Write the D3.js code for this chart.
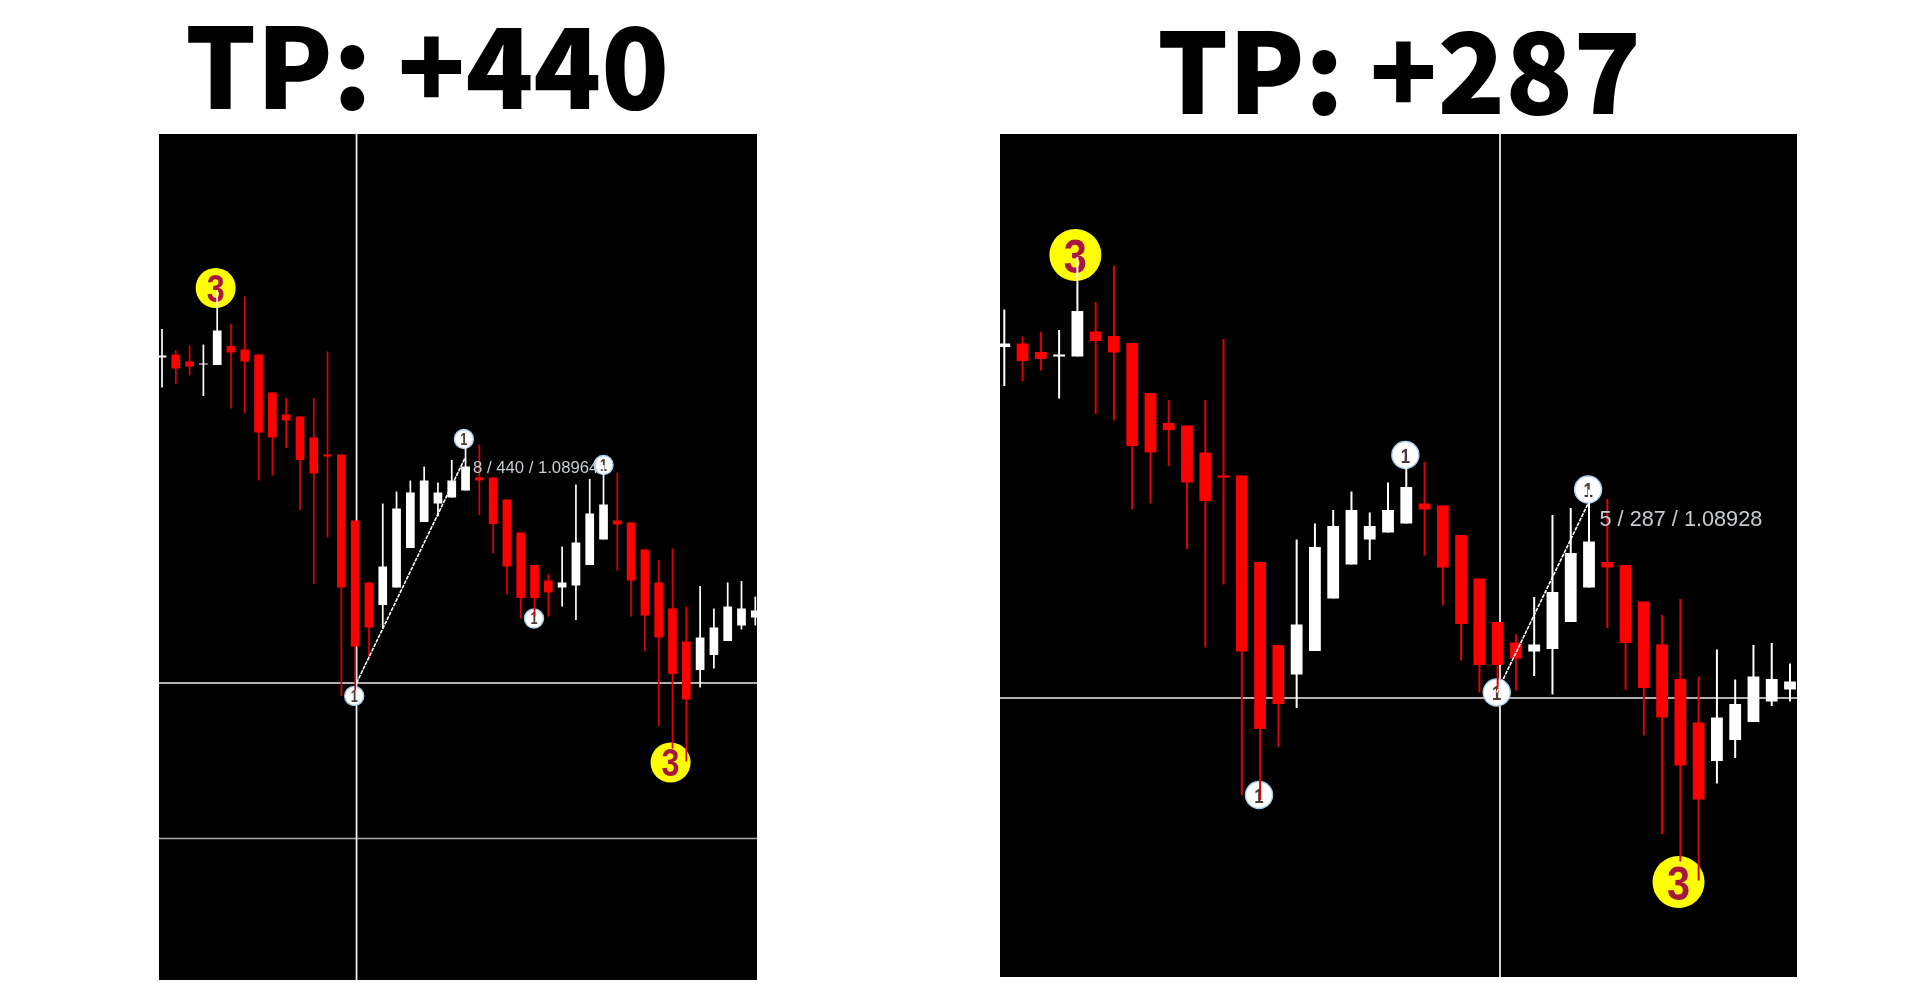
<!DOCTYPE html>
<html><head><meta charset="utf-8">
<script src="https://cdnjs.cloudflare.com/ajax/libs/d3/7.8.5/d3.min.js"></script>
<style>html,body{margin:0;padding:0;background:#fff;overflow:hidden}svg{display:block}</style>
</head><body>
<svg id="c" width="1914" height="983"></svg>
<script>
// Price levels are in points above each panel's floor.
const leftTitle = "TP: +440";
const leftLabel = "8 / 440 / 1.08964";
const leftOpen  = [1245,1251,1237,1231,1230,1268,1261,1251,1175,1131,1127,1085,1051,1051,919,795,750,785,864,916,953,965,979,1005,1005,961,895,830,799,785,789,830,881,919,915,861,795,743,677,620,650,678,709,725];
const leftHigh  = [1302,1260,1269,1271,1380,1312,1367,1251,1175,1164,1127,1164,1257,1051,919,795,953,977,999,1027,995,1040,1067,1071,1005,961,895,830,812,867,991,1002,1030,1015,915,861,840,863,747,788,743,795,798,767];
const leftLow   = [1185,1192,1209,1168,1230,1143,1133,999,1009,1064,940,792,885,568,580,640,703,785,864,916,927,965,979,930,853,771,723,727,727,747,720,830,881,819,727,658,508,463,437,585,623,678,701,709];
const leftClose = [1249,1223,1227,1233,1299,1255,1237,1095,1085,1119,1040,1013,1047,785,667,705,827,943,975,999,975,999,1027,999,912,827,764,764,775,795,875,933,951,911,799,729,685,612,561,685,705,747,743,739];
const leftHLines = [594,283];
const leftVLine  = 14.1;
const leftRay    = [[14.1,594],[21.96,1044]];
const leftMarks  = [["3",3.89,1384],["1",13.93,568],["1",21.88,1082],["1",26.96,723],["1",32.0,1030],["3",36.86,435]];

const rightTitle = "TP: +287";
const rightLabel = "5 / 287 / 1.08928";
const rightOpen  = [1260,1267,1250,1241,1241,1291,1282,1268,1168,1108,1103,1049,1003,1003,830,664,605,652,757,825,875,889,907,947,943,884,797,710,669,651,656,710,779,830,824,751,665,596,509,432,474,510,551,575];
const rightHigh  = [1335,1281,1290,1294,1440,1350,1423,1268,1168,1154,1103,1154,1276,1003,830,664,875,907,934,971,929,989,1023,1030,943,884,797,710,686,760,924,938,975,956,824,751,724,756,601,655,595,664,668,627];
const rightLow   = [1182,1191,1213,1157,1241,1126,1113,935,947,1022,856,659,785,364,354,460,538,652,757,825,834,889,907,843,743,633,569,569,573,602,565,710,779,698,574,483,286,231,193,387,438,510,542,551];
const rightClose = [1267,1232,1236,1245,1332,1272,1249,1062,1049,1094,989,952,999,651,496,546,705,860,902,934,902,934,980,935,819,706,624,624,637,665,770,848,871,819,668,578,519,423,355,519,546,601,596,591];
const rightHLines = [558];
const rightVLine  = 27.13;
const rightRay    = [[26.95,569],[31.95,947]];
const rightMarks  = [["3",3.89,1444],["1",13.94,364],["1",21.95,1044],["1",26.95,569],["1",31.95,975],["3",36.9,190]];

const svg = d3.select("#c");
const defs = svg.append("defs");
defs.append("filter").attr("id","soft").attr("x","-2%").attr("y","-2%").attr("width","104%").attr("height","104%")
  .append("feGaussianBlur").attr("stdDeviation",0.6);

function panel(o){
  const x = d3.scaleLinear().domain([0,43]).range(o.xr);
  const y = d3.scaleLinear().domain([0,o.top]).range(o.yr);
  const bw = o.bw;
  svg.append("rect").attr("x",o.box[0]).attr("y",o.box[1]).attr("width",o.box[2]-o.box[0]).attr("height",o.box[3]-o.box[1]).attr("fill","#000");
  const id = "clip"+o.key;
  defs.append("clipPath").attr("id",id).append("rect").attr("x",o.box[0]).attr("y",o.box[1]).attr("width",o.box[2]-o.box[0]).attr("height",o.box[3]-o.box[1]);
  const g = svg.append("g").attr("clip-path",`url(#${id})`).append("g").attr("filter","url(#soft)");

  // crosshair and extra level lines
  o.hl.forEach((v,i)=>g.append("line").attr("x1",o.box[0]).attr("x2",o.box[2]).attr("y1",y(v)).attr("y2",y(v)).attr("stroke",i?"#a8a8a8":"#ececec").attr("stroke-width",1.7));
  g.append("line").attr("x1",x(o.vl)).attr("x2",x(o.vl)).attr("y1",o.box[1]).attr("y2",o.box[3]).attr("stroke","#ececec").attr("stroke-width",1.8);

  // markers sit under the candles
  const m = g.selectAll("g.m").data(o.marks).join("g").attr("class","m")
    .attr("transform",d=>`translate(${x(d[1])},${y(d[2])})`);
  m.append("circle").attr("r",d=>d[0]==="3"?o.r3:o.r1)
    .attr("fill",d=>d[0]==="3"?"#ffff00":"#ffffff")
    .attr("stroke",d=>d[0]==="3"?"none":"#a8d0ee").attr("stroke-width",1.4);
  m.append("text").attr("text-anchor","middle").attr("dy","0.36em")
    .attr("transform",d=>d[0]==="3"?"scale(0.85,1)":"scale(0.8,1)")
    .attr("font-family","'Liberation Sans',sans-serif").attr("font-weight",700)
    .attr("font-size",d=>d[0]==="3"?o.f3:o.f1)
    .attr("fill",d=>d[0]==="3"?"#a8143f":"#4a3a38").text(d=>d[0]);

  const idx = d3.range(o.open.length);
  const col = i=>o.close[i]>=o.open[i]?"#ffffff":"#ff0000";
  g.selectAll("line.w").data(idx).join("line").attr("class","w")
    .attr("x1",x).attr("x2",x).attr("y1",i=>y(o.high[i])).attr("y2",i=>y(o.low[i]))
    .attr("stroke",i=>o.close[i]>=o.open[i]?"#ffffff":"#e00000").attr("stroke-width",o.ww);
  g.selectAll("rect.b").data(idx).join("rect").attr("class","b")
    .attr("x",i=>x(i)-bw/2).attr("width",bw)
    .attr("y",i=>y(Math.max(o.open[i],o.close[i])))
    .attr("height",i=>Math.abs(y(o.open[i])-y(o.close[i])))
    .attr("fill",col);

  // measured ray
  g.append("line").attr("x1",x(o.ray[0][0])).attr("y1",y(o.ray[0][1])).attr("x2",x(o.ray[1][0])).attr("y2",y(o.ray[1][1]))
    .attr("stroke","#fff").attr("stroke-width",1.6).attr("stroke-dasharray","4 1");

  g.append("text").attr("x",o.lx).attr("y",o.ly).attr("fill","#c8ccd0")
    .attr("font-family","'Liberation Sans',sans-serif").attr("font-size",o.lf).text(o.label);

  svg.append("text").attr("x",o.tx).attr("y",o.ty).attr("text-anchor","middle")
    .attr("font-family","'Noto Sans CJK SC','Noto Sans',sans-serif").attr("font-weight",900)
    .attr("font-size",o.tf).attr("fill","#000").text(o.title);
}

panel({key:"L",title:leftTitle,label:leftLabel,open:leftOpen,high:leftHigh,low:leftLow,close:leftClose,
  hl:leftHLines,vl:leftVLine,ray:leftRay,marks:leftMarks,
  box:[159,134,757,980],xr:[162,755.3],yr:[980,134],top:1692,bw:8.7,ww:1.7,r1:9.5,r3:20,f1:16,f3:38,
  lx:473,ly:473,lf:16.7,tx:427,ty:108.7,tf:111.5});
panel({key:"R",title:rightTitle,label:rightLabel,open:rightOpen,high:rightHigh,low:rightLow,close:rightClose,
  hl:rightHLines,vl:rightVLine,ray:rightRay,marks:rightMarks,
  box:[1000,134,1797,977],xr:[1004.3,1790],yr:[977,134],top:1686,bw:11.8,ww:2,r1:13.5,r3:26,f1:21,f3:49,
  lx:1599.5,ly:525.5,lf:21.7,tx:1399,ty:114,tf:111.5});
</script>
</body></html>
